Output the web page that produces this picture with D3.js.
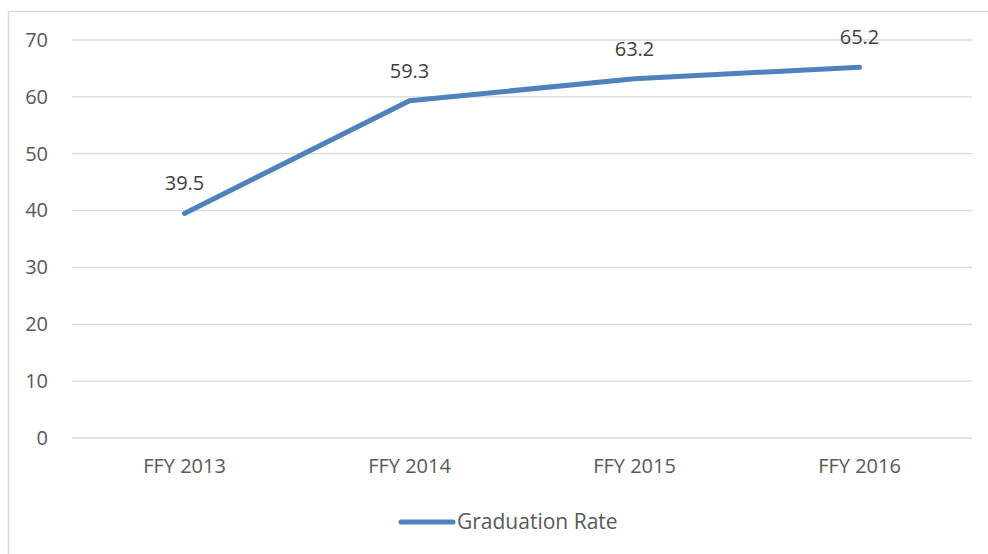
<!DOCTYPE html>
<html lang="en">
<head>
<meta charset="UTF-8">
<title>Graduation Rate</title>
<script src="https://cdn.jsdelivr.net/npm/d3@7"></script>
<style>
    body { margin: 0; background: #fff; }
    .tick text { fill: #595959; font-family: "Open Sans", sans-serif; font-size: 20px; }
    .lbl { fill: #404040; font-family: "Open Sans", sans-serif; font-size: 20px; }
    .legend { fill: #595959; font-family: "Open Sans", sans-serif; font-size: 21px; }
</style>
</head>
<body>
<div id="chart"></div>
<script>
var categories = ["FFY 2013", "FFY 2014", "FFY 2015", "FFY 2016"];
var gradRate = [39.5, 59.3, 63.2, 65.2];
var yTicks = [0, 10, 20, 30, 40, 50, 60, 70];

var W = 988, H = 554;
var margin = {top: 40, right: 16, bottom: 116, left: 72};
var width = W - margin.left - margin.right,
    height = H - margin.top - margin.bottom;

var svg = d3.select("#chart").append("svg")
    .attr("width", W).attr("height", H);

// chart border (only top/left visible in the reference)
svg.append("rect")
    .attr("x", 8.5).attr("y", 11.5)
    .attr("width", W).attr("height", H)
    .attr("fill", "none").attr("stroke", "#d9d9d9").attr("stroke-width", 1.5);

var g = svg.append("g")
    .attr("transform", "translate(" + margin.left + "," + margin.top + ")");

var x = d3.scaleBand().domain(categories).range([0, width]);
var y = d3.scaleLinear().domain([0, 70]).range([height, 0]);

// gridlines
g.selectAll(".grid").data(yTicks).enter().append("line")
    .attr("x1", 0).attr("x2", width)
    .attr("y1", d => y(d)).attr("y2", d => y(d))
    .attr("stroke", "#d9d9d9").attr("stroke-width", 1.3);

// y axis labels
var yAxis = g.append("g")
    .call(d3.axisLeft(y).tickValues(yTicks).tickSize(0).tickPadding(24));
yAxis.select(".domain").remove();

// x axis labels
var xAxis = g.append("g")
    .attr("transform", "translate(0," + height + ")")
    .call(d3.axisBottom(x).tickSize(0).tickPadding(21));
xAxis.select(".domain").remove();

var data = categories.map((c, i) => ({cat: c, v: gradRate[i]}));

var line = d3.line()
    .x(d => x(d.cat) + x.bandwidth() / 2)
    .y(d => y(d.v));

g.append("path").datum(data)
    .attr("d", line)
    .attr("fill", "none")
    .attr("stroke", "#4f81bd")
    .attr("stroke-width", 5)
    .attr("stroke-linecap", "round")
    .attr("stroke-linejoin", "round");

g.selectAll(".lbl").data(data).enter().append("text")
    .attr("class", "lbl")
    .attr("x", d => x(d.cat) + x.bandwidth() / 2)
    .attr("y", d => y(d.v) - 23)
    .attr("text-anchor", "middle")
    .text(d => d.v.toFixed(1));

// legend
var lg = svg.append("g").attr("transform", "translate(401,522)");
lg.append("line")
    .attr("x1", 0).attr("x2", 52).attr("y1", 0).attr("y2", 0)
    .attr("stroke", "#4f81bd").attr("stroke-width", 5)
    .attr("stroke-linecap", "round");
lg.append("text")
    .attr("class", "legend")
    .attr("x", 56).attr("y", 0).attr("dy", "0.35em")
    .text("Graduation Rate");
</script>
</body>
</html>
